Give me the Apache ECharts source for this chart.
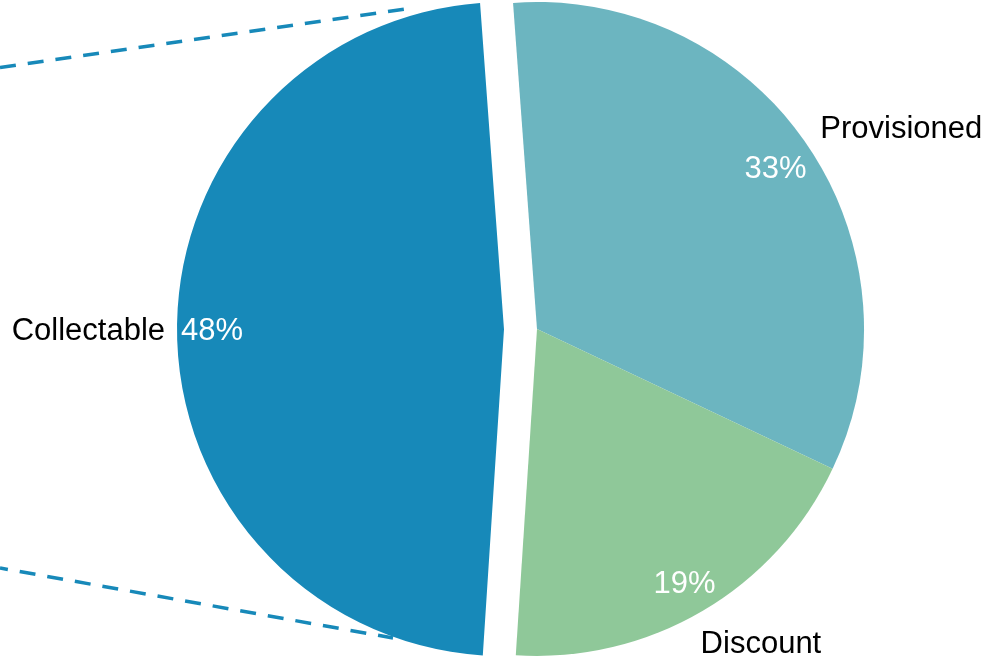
<!DOCTYPE html>
<html>
<head>
<meta charset="utf-8">
<script src="https://cdn.jsdelivr.net/npm/echarts@6/dist/echarts.min.js"></script>
<style>
html, body { margin: 0; padding: 0; background: #fff; }
#chart { width: 1000px; height: 664px; }
</style>
</head>
<body>
<div id="chart"></div>
<script>
// data
var categories = ['Provisioned', 'Discount', 'Collectable'];
var shares = [33.2, 19.0, 47.8];
var explodedName = 'Collectable';
// series lines running off to the (cropped) second chart, in page units
var connectorTop = [[0, 67.5], [406, 9]];
var connectorBottom = [[0, 568], [393, 638]];

// style
var sliceColors = ['#6CB5C0', '#8FC899', '#1789B9'];
var nameShift = [[-17, 3], [-25, 3], [-2, 1]];  // nudge of the name labels
var pctShift = [[-3, 6], [-1, 3], [1, 1]];      // nudge of the % labels
var font = 'Liberation Sans, Arial, sans-serif';
var pieCenter = [537, 329];
var pieR = 327;

function pieData() {
  var out = [];
  for (var i = 0; i < categories.length; i++) {
    out.push({
      name: categories[i],
      value: shares[i],
      selected: categories[i] == explodedName,
      itemStyle: { color: sliceColors[i] }
    });
  }
  return out;
}

var chart = echarts.init(document.getElementById('chart'));
chart.setOption({
  animation: false,
  grid: { left: 0, right: 0, top: 0, bottom: 0 },
  xAxis: { type: 'value', min: 0, max: 1000, show: false },
  yAxis: { type: 'value', min: 0, max: 664, inverse: true, show: false },
  series: [
    {
      type: 'line',
      data: connectorTop,
      symbol: 'none',
      silent: true,
      lineStyle: { color: '#1789B9', width: 3.5, type: [16, 12], dashOffset: 0 }
    },
    {
      type: 'line',
      data: connectorBottom,
      symbol: 'none',
      silent: true,
      lineStyle: { color: '#1789B9', width: 3.5, type: [16, 12], dashOffset: 8 }
    },
    {  // slices + category names
      name: 'main',
      type: 'pie',
      center: pieCenter,
      radius: [0, pieR],
      startAngle: 94.2,
      clockwise: true,
      selectedMode: 'single',
      selectedOffset: 33,
      avoidLabelOverlap: false,
      itemStyle: { borderWidth: 0 },
      emphasis: { disabled: true },
      label: {
        show: true,
        position: 'outside',
        formatter: '{b}',
        color: '#000',
        fontFamily: font,
        fontSize: 31
      },
      labelLine: { show: false, length: 3, length2: 2 },
      labelLayout: function (p) {
        return { dx: nameShift[p.dataIndex][0], dy: nameShift[p.dataIndex][1] };
      },
      data: pieData().map(function (d, i) {
        if (i == 0) d.labelLine = { show: false, length: 31, length2: 0 };
        if (i == 1) d.labelLine = { show: false, length: 35, length2: 0 };
        return d;
      })
    },
    {  // percentage labels near the rim
      name: 'pct',
      type: 'pie',
      center: pieCenter,
      radius: [253, pieR],
      startAngle: 94.2,
      clockwise: true,
      selectedMode: 'single',
      selectedOffset: 33,
      silent: true,
      avoidLabelOverlap: false,
      itemStyle: { color: 'rgba(0,0,0,0)', borderWidth: 0 },
      emphasis: { disabled: true },
      label: {
        show: true,
        position: 'inside',
        formatter: function (p) { return Math.round(p.percent) + '%'; },
        color: '#fff',
        fontFamily: font,
        fontSize: 31
      },
      labelLine: { show: false },
      labelLayout: function (p) {
        return { dx: pctShift[p.dataIndex][0], dy: pctShift[p.dataIndex][1] };
      },
      data: pieData().map(function (d) {
        d.itemStyle = { color: 'rgba(0,0,0,0)' };
        return d;
      })
    }
  ]
});
</script>
</body>
</html>
